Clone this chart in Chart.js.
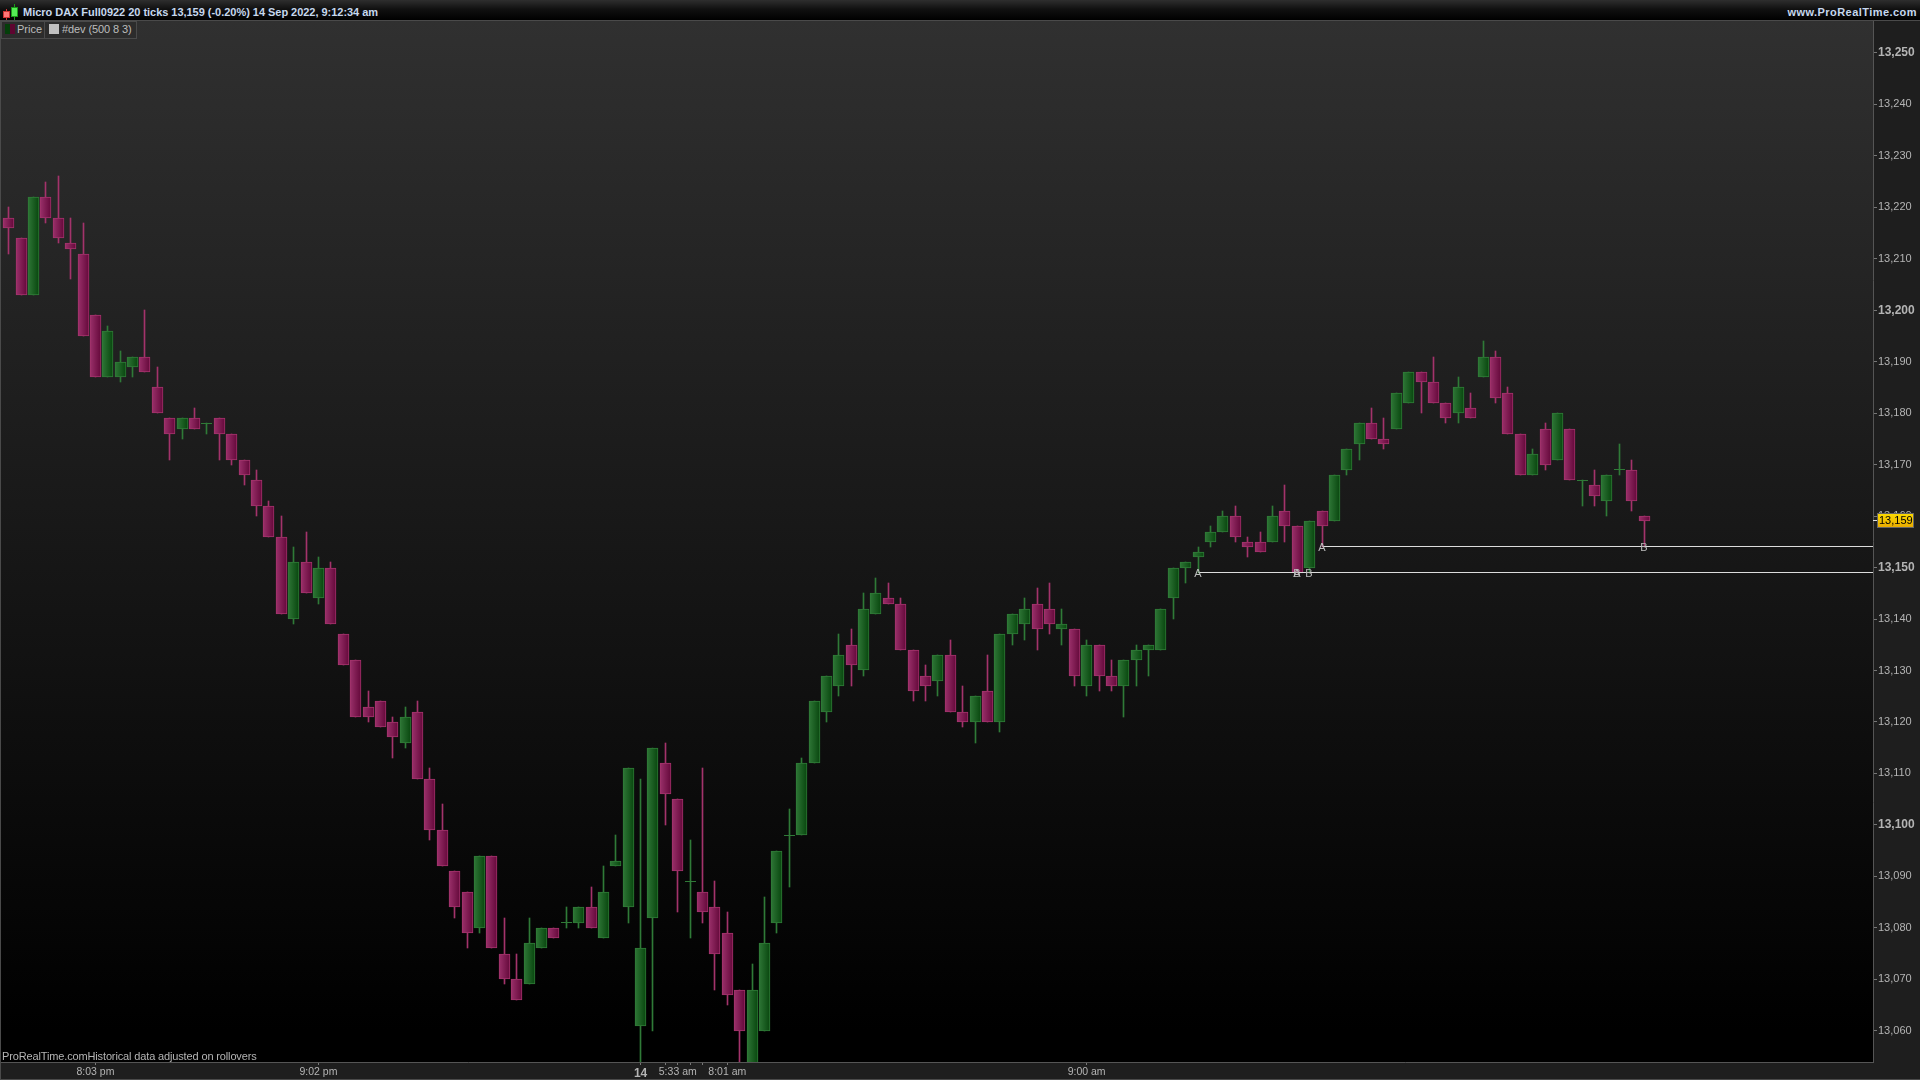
<!DOCTYPE html>
<html>
<head>
<meta charset="utf-8">
<title>Micro DAX Full0922</title>
<script src="https://cdn.jsdelivr.net/npm/chart.js@4/dist/chart.umd.min.js"></script>
<style>
  html, body { margin:0; padding:0; width:1920px; height:1080px; overflow:hidden; background:#1e1e1e; font-family:"Liberation Sans", Arial, sans-serif; }
  canvas { position:absolute; left:0; top:0; }
  .abs { position:absolute; white-space:nowrap; }
  #topbar { left:0; top:0; width:1920px; height:20px; background:linear-gradient(#2e2e2e 0%, #111 45%, #000 100%); border-bottom:1px solid #4a4a4a; }
  #title { left:23px; top:5px; font:bold 11px/14px "Liberation Sans"; color:#c6d8ee; letter-spacing:-0.03px; }
  #site { right:3px; top:5px; font:bold 11px/14px "Liberation Sans"; color:#c6d8ee; letter-spacing:0.45px; }
  .legbox { top:21px; height:16px; border:1px solid #4a4a4a; background:#2c2c2c; box-sizing:content-box; }
  .legtxt { top:22px; font:11px/14px "Liberation Sans"; color:#bdbdbd; }
  #leftline { left:0; top:21px; width:1px; height:1059px; background:#4a4a4a; }
  #bottomline { left:0; top:1079px; width:1920px; height:1px; background:#4a4a4a; }
  #note { left:2px; top:1050px; font:11px/13px "Liberation Sans"; color:#b4b4b4; letter-spacing:-0.14px; }
</style>
</head>
<body>
<canvas id="dax" width="1920" height="1080"></canvas>

<div class="abs" id="topbar"></div>
<!-- icon candele kecil -->
<div class="abs" style="left:6px;top:9px;width:1px;height:11px;background:#c33"></div>
<div class="abs" style="left:3px;top:11px;width:5px;height:5px;background:#f77;border:1px solid #c33"></div>
<div class="abs" style="left:14px;top:4px;width:1px;height:16px;background:#1a9a1a"></div>
<div class="abs" style="left:11px;top:7px;width:5px;height:8px;background:#5e5;border:1px solid #1a9a1a"></div>
<div class="abs" id="title">Micro DAX Full0922 20 ticks 13,159 (-0.20%) 14 Sep 2022, 9:12:34 am</div>
<div class="abs" id="site">www.ProRealTime.com</div>

<div class="abs legbox" style="left:1px;width:42px"></div>
<div class="abs legbox" style="left:44px;width:91px"></div>
<div class="abs" style="left:5px;top:24px;width:5px;height:10px;background:#043f0a"></div>
<div class="abs" style="left:10px;top:24px;width:5px;height:10px;background:#5e0530"></div>
<div class="abs" style="left:49px;top:24px;width:10px;height:10px;background:#c0c0c0"></div>
<div class="abs legtxt" style="left:17px">Price</div>
<div class="abs legtxt" style="left:62px;letter-spacing:-0.1px">#dev (500 8 3)</div>

<div class="abs" id="leftline"></div>
<div class="abs" id="bottomline"></div>
<div class="abs" id="note">ProRealTime.comHistorical data adjusted on rollovers</div>

<script>
const openPrices = [
  13218,13214,13203,13222,13218,13213,13211,13199,13187,13187,
  13189,13191,13185,13179,13177,13179,13178,13179,13176,13171,
  13167,13162,13156,13140,13151,13144,13150,13137,13132,13123,
  13124,13120,13116,13122,13109,13099,13091,13087,13080,13094,
  13075,13070,13069,13076,13080,13081,13081,13084,13078,13092,
  13084,13061,13082,13112,13105,13089,13087,13084,13079,13068,
  13052,13060,13081,13098,13098,13112,13122,13127,13135,13130,
  13141,13144,13143,13134,13129,13128,13133,13122,13120,13126,
  13120,13137,13139,13143,13142,13138,13138,13127,13135,13129,
  13127,13132,13134,13134,13144,13150,13152,13155,13157,13160,
  13155,13155,13155,13161,13158,13150,13161,13159,13169,13174,
  13178,13175,13177,13182,13188,13186,13182,13180,13181,13187,
  13191,13184,13176,13168,13177,13171,13177,13167,13166,13163,
  13169,13169,13160
];
const closePrices = [
  13216,13203,13222,13218,13214,13212,13195,13187,13196,13190,
  13191,13188,13180,13176,13179,13177,13178,13176,13171,13168,
  13162,13156,13141,13151,13145,13150,13139,13131,13121,13121,
  13119,13117,13121,13109,13099,13092,13084,13079,13094,13076,
  13070,13066,13077,13080,13078,13081,13084,13080,13087,13093,
  13111,13076,13115,13106,13091,13089,13083,13075,13067,13060,
  13068,13077,13095,13098,13112,13124,13129,13133,13131,13142,
  13145,13143,13134,13126,13127,13133,13122,13120,13125,13120,
  13137,13141,13142,13138,13139,13139,13129,13135,13129,13127,
  13132,13134,13135,13142,13150,13151,13153,13157,13160,13156,
  13154,13153,13160,13158,13149,13159,13158,13168,13173,13178,
  13175,13174,13184,13188,13186,13182,13179,13185,13179,13191,
  13183,13176,13168,13172,13170,13180,13167,13167,13164,13168,
  13169,13163,13159
];
const highPrices = [
  13220,13214,13222,13225,13226,13218,13217,13199,13197,13192,
  13191,13200,13189,13179,13179,13181,13178,13179,13176,13171,
  13169,13163,13160,13154,13157,13152,13151,13137,13132,13126,
  13124,13121,13123,13124,13111,13104,13091,13087,13094,13094,
  13082,13075,13082,13080,13080,13084,13084,13088,13092,13098,
  13111,13109,13115,13116,13105,13097,13111,13089,13083,13068,
  13073,13086,13095,13103,13113,13124,13129,13137,13138,13145,
  13148,13147,13144,13134,13131,13133,13136,13127,13125,13133,
  13137,13141,13144,13146,13147,13142,13138,13136,13135,13132,
  13132,13135,13135,13142,13150,13151,13154,13158,13161,13162,
  13156,13157,13162,13166,13158,13159,13161,13168,13173,13178,
  13181,13179,13184,13188,13188,13191,13182,13187,13184,13194,
  13192,13185,13176,13173,13178,13180,13177,13167,13169,13168,
  13174,13171,13160
];
const lowPrices = [
  13211,13203,13203,13217,13213,13206,13195,13187,13187,13186,
  13187,13188,13180,13171,13175,13177,13176,13171,13170,13166,
  13160,13156,13141,13139,13145,13143,13139,13131,13121,13120,
  13119,13113,13115,13109,13097,13092,13082,13076,13079,13076,
  13069,13066,13069,13076,13078,13080,13080,13080,13078,13092,
  13081,13053,13060,13100,13083,13078,13081,13068,13065,13054,
  13052,13060,13079,13088,13098,13112,13120,13125,13127,13129,
  13141,13143,13134,13124,13124,13125,13122,13119,13116,13120,
  13118,13135,13136,13134,13137,13135,13127,13125,13126,13126,
  13121,13127,13129,13134,13140,13147,13149,13154,13157,13155,
  13152,13153,13155,13155,13149,13149,13154,13159,13168,13171,
  13175,13173,13177,13182,13180,13182,13178,13178,13179,13187,
  13182,13176,13168,13168,13169,13171,13167,13162,13162,13160,
  13168,13161,13154
];

const yTickValues = [13060,13070,13080,13090,13100,13110,13120,13130,13140,13150,13160,13170,13180,13190,13200,13210,13220,13230,13240,13250];
const xTickIndex  = [7,25,51,53,54,55,56,58,87];
const xTickLabels = ['8:03 pm','9:02 pm','14','','5:33 am','','','8:01 am','9:00 am'];

// level #dev: harga dan candle awal
const devLevels = [13149, 13154];
const devStart  = [96, 106];
const pointText  = ['A','A','B','B','A','B'];
const pointIndex = [96,104,104,105,106,132];
const pointPrice = [13149,13149,13149,13149,13154,13154];

const lastPrice = 13159;

const xMin = -0.702, xMax = 150.47;
const yMin = 13053.92, yMax = 13256.41;
const GREEN = '#2f7a37', RED = '#a3336b';
const FONT = '"Liberation Sans"';

const candleIdx = openPrices.map((_, i) => i);
const isUp = i => closePrices[i] >= openPrices[i];

const bodyData = candleIdx.filter(i => openPrices[i] !== closePrices[i]).map(i => ({x:i, y:[openPrices[i], closePrices[i]]}));
const dojiData = candleIdx.filter(i => openPrices[i] === closePrices[i]).map(i => ({x:i, y:openPrices[i]}));
const wickData = candleIdx.filter(i => highPrices[i] > lowPrices[i]).map(i => ({x:i, y:[lowPrices[i], highPrices[i]]}));

function bodyFill(c) {
  if (!c.raw) return GREEN;
  const up = isUp(c.raw.x);
  const px = Math.floor(c.chart.scales.x.getPixelForValue(c.raw.x));
  // scale belum siap waktu opsi pertama kali di-resolve
  if (!Number.isFinite(px)) return up ? GREEN : RED;
  const g = c.chart.ctx.createLinearGradient(px-5, 0, px+6, 0);
  if (up) { g.addColorStop(0,'#2e7636'); g.addColorStop(1,'#08460e'); }
  else { g.addColorStop(0,'#9a306a'); g.addColorStop(1,'#64083a'); }
  return g;
}

// background area plot + panel axis
const bgPlugin = {
  id:'bg',
  beforeDraw(chart) {
    const {ctx, chartArea:a, width, height} = chart;
    ctx.save();
    ctx.fillStyle = '#1e1e1e';
    ctx.fillRect(0, 0, width, height);
    const g = ctx.createLinearGradient(0, a.top, 0, a.bottom);
    g.addColorStop(0, '#303030');
    g.addColorStop(0.97, '#000000');
    g.addColorStop(1, '#000000');
    ctx.fillStyle = g;
    ctx.fillRect(a.left, a.top, a.right-a.left, a.bottom-a.top);
    ctx.restore();
  }
};

// candle dibuat tajam di pixel penuh, kayak platform aslinya
const snapPlugin = {
  id:'snap',
  beforeDatasetsDraw(chart) {
    chart.data.datasets.forEach((ds, n) => {
      const meta = chart.getDatasetMeta(n);
      meta.data.forEach(el => {
        el.x = Math.floor(el.x) + 0.5;
        if (ds.type === 'bar') {
          el.y = Math.round(el.y);
          el.base = Math.round(el.base);
        } else {
          el.y = Math.floor(el.y) + 0.5;
        }
      });
    });
  }
};

// huruf A/B dan tag harga terakhir
const labelPlugin = {
  id:'labels',
  afterDraw(chart) {
    const {ctx, scales:{x, y}, chartArea:a} = chart;
    ctx.save();
    ctx.font = '11px ' + FONT;
    ctx.fillStyle = '#bdbdbd';
    ctx.textAlign = 'center';
    ctx.textBaseline = 'middle';
    pointText.forEach((t, i) => {
      ctx.fillText(t, Math.floor(x.getPixelForValue(pointIndex[i])), Math.round(y.getPixelForValue(pointPrice[i])) + 1);
    });

    const py = Math.round(y.getPixelForValue(lastPrice)) - 1;
    ctx.fillStyle = '#e0e0e0';
    ctx.fillRect(a.right, py, 4, 1);
    const g = ctx.createLinearGradient(0, py-8, 0, py+8);
    g.addColorStop(0, '#ffe000');
    g.addColorStop(1, '#e8a800');
    ctx.fillStyle = g;
    ctx.fillRect(1877, py-7, 37, 15);
    ctx.strokeStyle = '#666';
    ctx.strokeRect(1877.5, py-6.5, 36, 14);
    ctx.fillStyle = '#000';
    ctx.textAlign = 'left';
    ctx.fillText(lastPrice.toLocaleString('en-US'), 1879, py+1);
    ctx.restore();
  }
};

new Chart(document.getElementById('dax'), {
  data: {
    datasets: [
      {
        type:'bar', label:'wick', data:wickData, order:3, grouped:false, barThickness:1,
        backgroundColor: c => c.raw && isUp(c.raw.x) ? GREEN : RED,
        borderWidth:0,
      },
      {
        type:'bar', label:'body', data:bodyData, order:2, grouped:false, barThickness:11,
        backgroundColor: bodyFill,
        borderColor: c => c.raw && isUp(c.raw.x) ? GREEN : RED,
        borderWidth:1, borderSkipped:false,
      },
      {
        type:'line', label:'doji', data:dojiData, order:2, showLine:false,
        pointStyle:'line', pointRadius:5.5, pointBorderColor:GREEN, pointBorderWidth:1,
      },
      {
        type:'line', label:'dev1', order:1, borderColor:'#dcdcdc', borderWidth:1, pointRadius:0,
        data:[{x:devStart[0], y:devLevels[0]}, {x:xMax, y:devLevels[0]}],
      },
      {
        type:'line', label:'dev2', order:1, borderColor:'#dcdcdc', borderWidth:1, pointRadius:0,
        data:[{x:devStart[1], y:devLevels[1]}, {x:xMax, y:devLevels[1]}],
      },
    ],
  },
  options: {
    responsive:false, animation:false, events:[],
    layout: { autoPadding:false, padding:{top:20, left:0, right:0, bottom:0} },
    plugins: { legend:{display:false}, tooltip:{enabled:false}, title:{display:false} },
    scales: {
      x: {
        type:'linear', min:xMin, max:xMax, offset:false,
        grid: { offset:false, drawOnChartArea:false, color:'#777', tickLength:3 },
        border: { color:'#555' },
        afterBuildTicks: s => { s.ticks = xTickIndex.map(v => ({value:v})); },
        afterFit: s => { s.height = 18; s.paddingLeft = 0; s.paddingRight = 0; },
        ticks: {
          autoSkip:false, maxRotation:0, padding:1, color:'#b4b4b4',
          font: c => (c.tick && c.tick.value === 51) ? {family:FONT, size:12, weight:'bold'} : {family:FONT, size:10.5},
          callback: v => xTickLabels[xTickIndex.indexOf(v)] ?? '',
        },
      },
      y: {
        type:'linear', position:'right', min:yMin, max:yMax,
        grid: { drawOnChartArea:false, color:'#777', tickLength:4 },
        border: { color:'#555' },
        afterBuildTicks: s => { s.ticks = yTickValues.map(v => ({value:v})); },
        afterFit: s => { s.width = 47; s.paddingTop = 0; s.paddingBottom = 0; },
        ticks: {
          autoSkip:false, padding:1, color:'#b4b4b4',
          font: c => (c.tick && c.tick.value % 50 === 0) ? {family:FONT, size:12, weight:'bold'} : {family:FONT, size:11},
          callback: v => v.toLocaleString('en-US'),
        },
      },
    },
  },
  plugins: [bgPlugin, snapPlugin, labelPlugin],
});
</script>
</body>
</html>
